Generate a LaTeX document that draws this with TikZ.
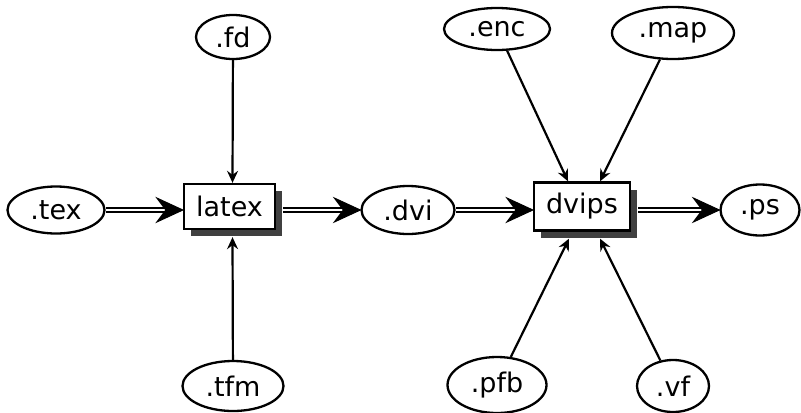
\documentclass[tikz,border=0pt]{standalone}
\usepackage{fontspec}
\setmainfont{DejaVu Sans}
\usetikzlibrary{arrows.meta,shapes.geometric,shadows}
\begin{document}
\begin{tikzpicture}[x=0.5pt,y=-0.5pt,
  file/.style={draw,ellipse,line width=1.15pt,inner sep=0pt,font=\fontsize{13.5}{16}\selectfont},
  prog/.style={draw,rectangle,line width=1.15pt,fill=white,inner sep=0pt,font=\fontsize{13.5}{16}\selectfont,
     drop shadow={shadow xshift=3.5pt,shadow yshift=-3.5pt,fill=black!75,opacity=1}},
  dblline/.style={double,line width=1pt,double distance=1.3pt,shorten >=8.5pt},
  bigtip/.style={fill=black,draw=black,line width=0.5pt,line join=miter},
  thinarrow/.style={line width=1.1pt,-{Stealth[length=6pt,width=5.5pt,inset=2pt]}}
]
\useasboundingbox (0,0) rectangle (801,412);
% programs
\node[prog,minimum width=45.5pt,minimum height=22.5pt] (latex) at (229.5,206.5) {latex};
\node[prog,minimum width=48pt,minimum height=24pt] (dvips) at (582,206.5) {dvips};
% files
\node[file,minimum width=48.5pt,minimum height=23.5pt] (tex) at (56,210) {.tex};
\node[file,minimum width=37pt,minimum height=22pt] (fd) at (233,37) {.fd};
\node[file,minimum width=50.5pt,minimum height=25pt] (tfm) at (233,386) {.tfm};
\node[file,minimum width=46.5pt,minimum height=24pt] (dvi) at (408,210) {.dvi};
\node[file,minimum width=53pt,minimum height=21pt] (enc) at (497,29) {.enc};
\node[file,minimum width=61pt,minimum height=26pt] (map) at (673,33) {.map};
\node[file,minimum width=49.5pt,minimum height=28pt] (pfb) at (497,385) {.pfb};
\node[file,minimum width=36pt,minimum height=26pt] (vf) at (673,386) {.vf};
\node[file,minimum width=39.5pt,minimum height=25.5pt] (ps) at (760,210) {.ps};
% end points of the double arrows
\coordinate (latexin) at ([yshift=-1.75pt]latex.west);
\coordinate (latexout) at ([shift={(3.5pt,-1.75pt)}]latex.east);
\coordinate (dvipsin) at ([yshift=-1.75pt]dvips.west);
\coordinate (dvipsout) at ([shift={(3.5pt,-1.75pt)}]dvips.east);
\coordinate (dviin) at (dvi.west);
\coordinate (psin) at (ps.west);
% double arrows
\draw[dblline] (tex) -- (latexin);
\draw[dblline] (latexout) -- (dviin);
\draw[dblline] (dvi) -- (dvipsin);
\draw[dblline] (dvipsout) -- (psin);
\foreach \p in {latexin,dviin,dvipsin,psin}
  \filldraw[bigtip] (\p) -- ++(-13pt,6pt) -- ++(4.5pt,-6pt) -- ++(-4.5pt,-6pt) -- cycle;
% single arrows
\draw[thinarrow] (fd) -- ([xshift=1.5pt]latex.north);
\draw[thinarrow] (tfm) -- ([shift={(1.5pt,-3.5pt)}]latex.south);
\draw[thinarrow] (enc) -- ([xshift=-7pt]dvips.north);
\draw[thinarrow] (map) -- ([xshift=9pt]dvips.north);
\draw[thinarrow] (pfb) -- ([shift={(-6.5pt,-3.5pt)}]dvips.south);
\draw[thinarrow] (vf) -- ([shift={(9pt,-3.5pt)}]dvips.south);
\end{tikzpicture}
\end{document}
